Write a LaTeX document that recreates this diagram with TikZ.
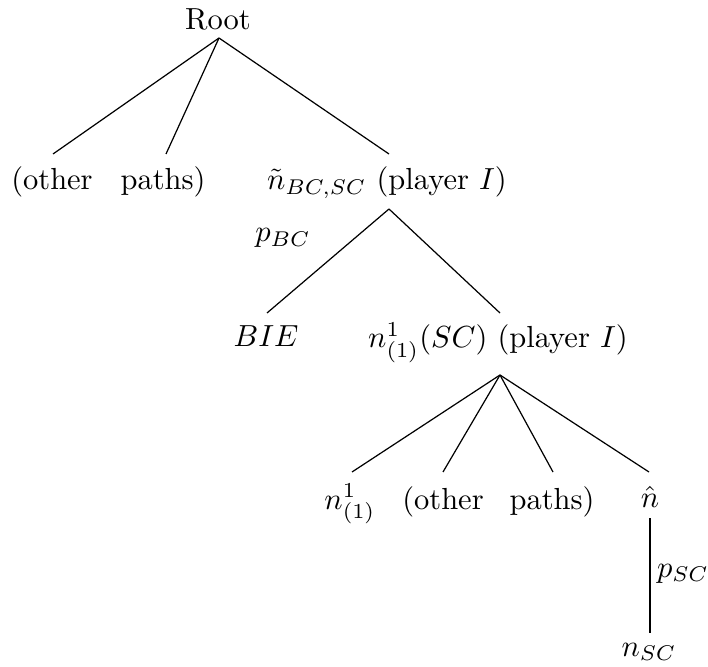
\documentclass[tikz,border=0pt]{standalone}
\usetikzlibrary{calc}
\begin{document}
\begin{tikzpicture}[x=0.328pt,y=-0.328pt,
  tn/.style={inner sep=0pt,anchor=base},
  edge/.style={draw=black,line width=0.4pt}]
\path[use as bounding box] (0,0) rectangle (708,667);
% nodes
\node[tn] (root) at (218,30) {Root};
\node[tn] (o1) at (52,190) {(other};
\node[tn] (o2) at (163,190) {paths)};
\node[tn] (nt) at (387,190) {$\tilde{n}_{BC,SC}$ (player $I$)};
\node[tn] (pbc) at (283,242) {$p_{BC}$};
\node[tn] (bie) at (266,347) {$BIE$};
\node[tn] (n1sc) at (498,348) {$n^1_{(1)}(SC)$ (player $I$)};
\node[tn] (n1) at (350,509) {$n^1_{(1)}$};
\node[tn] (o3) at (443,509) {(other};
\node[tn] (o4) at (552,509) {paths)};
\node[tn] (nh) at (650,508) {$\hat{n}$};
\node[tn] (psc) at (683,577) {$p_{SC}$};
\node[tn] (nsc) at (649,656) {$n_{SC}$};
% edges
\draw[edge] ($(root.base)+(1,8)$) -- ($(o1.base)+(1,-36)$);
\draw[edge] ($(root.base)+(1,8)$) -- ($(o2.base)+(3,-36)$);
\draw[edge] ($(root.base)+(1,8)$) -- ($(nt.base)+(2,-36)$);
\draw[edge] ($(nt.base)+(2,19)$) -- ($(bie.base)+(1,-34)$);
\draw[edge] ($(nt.base)+(2,19)$) -- ($(n1sc.base)+(2,-35)$);
\draw[edge] ($(n1sc.base)+(2,27)$) -- ($(n1.base)+(2,-37)$);
\draw[edge] ($(n1sc.base)+(2,27)$) -- ($(o3.base)+(0,-37)$);
\draw[edge] ($(n1sc.base)+(2,27)$) -- ($(o4.base)+(1,-37)$);
\draw[edge] ($(n1sc.base)+(2,27)$) -- ($(nh.base)+(-1,-36)$);
\draw[edge] ($(nh.base)+(0,10)$) -- ($(nsc.base)+(1,-23)$);
\end{tikzpicture}
\end{document}
